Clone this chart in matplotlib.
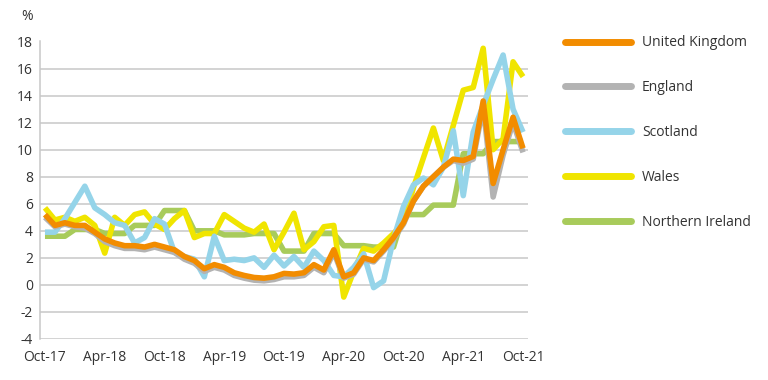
import matplotlib
matplotlib.use("Agg")
import matplotlib.pyplot as plt
import numpy as np
from matplotlib.lines import Line2D

plt.rcParams['font.family'] = ['Open Sans', 'DejaVu Sans']

months = ["Oct-17", "Nov-17", "Dec-17", "Jan-18", "Feb-18", "Mar-18", "Apr-18", "May-18", "Jun-18",
          "Jul-18", "Aug-18", "Sep-18", "Oct-18", "Nov-18", "Dec-18", "Jan-19", "Feb-19", "Mar-19",
          "Apr-19", "May-19", "Jun-19", "Jul-19", "Aug-19", "Sep-19", "Oct-19", "Nov-19", "Dec-19",
          "Jan-20", "Feb-20", "Mar-20", "Apr-20", "May-20", "Jun-20", "Jul-20", "Aug-20", "Sep-20",
          "Oct-20", "Nov-20", "Dec-20", "Jan-21", "Feb-21", "Mar-21", "Apr-21", "May-21", "Jun-21",
          "Jul-21", "Aug-21", "Sep-21", "Oct-21"]

united_kingdom = [5.2, 4.4, 4.6, 4.4, 4.4, 3.9, 3.4, 3.1, 2.9, 2.9,
                  2.8, 3.0, 2.8, 2.6, 2.1, 1.8, 1.2, 1.5, 1.3, 0.9,
                  0.7, 0.55, 0.5, 0.6, 0.85, 0.8, 0.9, 1.5, 1.1, 2.6,
                  0.6, 0.9, 2.0, 1.8, 2.6, 3.5, 4.6, 6.2, 7.3, 8.0,
                  8.7, 9.3, 9.2, 9.5, 13.6, 7.5, 10.0, 12.4, 10.1]

england = [5.0, 4.3, 4.5, 4.3, 4.2, 3.8, 3.2, 2.9, 2.7, 2.7,
           2.6, 2.8, 2.6, 2.4, 1.9, 1.6, 1.0, 1.3, 1.1, 0.7,
           0.5, 0.35, 0.3, 0.4, 0.6, 0.6, 0.7, 1.3, 0.9, 2.4,
           0.5, 0.8, 1.9, 1.7, 2.5, 3.4, 4.5, 6.2, 7.3, 8.0,
           8.7, 9.2, 9.0, 9.3, 13.2, 6.5, 9.6, 12.0, 9.8]

scotland = [3.9, 3.9, 4.9, 6.1, 7.3, 5.7, 5.2, 4.6, 4.4, 3.1,
            3.5, 4.9, 4.5, 2.4, 2.1, 1.9, 0.6, 3.6, 1.8, 1.9,
            1.8, 2.0, 1.3, 2.2, 1.4, 2.1, 1.3, 2.5, 1.8, 0.7,
            0.6, 1.3, 2.3, -0.2, 0.3, 3.4, 5.8, 7.4, 7.9, 7.4,
            8.7, 11.4, 6.6, 11.3, 13.3, 15.2, 17.0, 13.0, 11.3]

wales = [5.7, 4.8, 5.0, 4.7, 5.0, 4.4, 2.35, 5.0, 4.4, 5.2,
         5.4, 4.5, 4.1, 4.9, 5.5, 3.5, 3.8, 3.8, 5.2, 4.7,
         4.2, 3.9, 4.5, 2.6, 3.9, 5.3, 2.6, 3.2, 4.3, 4.4,
         -0.9, 1.0, 2.7, 2.5, 3.1, 3.8, 4.6, 7.2, 9.4, 11.6,
         9.2, 11.8, 14.4, 14.6, 17.5, 10.0, 10.8, 16.5, 15.4]

northern_ireland = [3.6, 3.6, 3.6, 4.1, 4.1, 4.1, 3.8, 3.8, 3.8, 4.4,
                    4.4, 4.4, 5.5, 5.5, 5.5, 4.0, 4.0, 4.0, 3.7, 3.7,
                    3.7, 3.8, 3.8, 3.8, 2.5, 2.5, 2.5, 3.8, 3.8, 3.8,
                    2.9, 2.9, 2.9, 2.8, 2.8, 2.8, 5.2, 5.2, 5.2, 5.9,
                    5.9, 5.9, 9.7, 9.7, 9.7, 10.6, 10.6, 10.6, 10.6]

series_names = ["United Kingdom", "England", "Scotland", "Wales", "Northern Ireland"]
colors = ["#f28c00", "#b3b3b3", "#95d4e9", "#f0e500", "#a8cb5b"]
yticks = [-4, -2, 0, 2, 4, 6, 8, 10, 12, 14, 16, 18]
xtick_labels = ["Oct-17", "Apr-18", "Oct-18", "Apr-19", "Oct-19", "Apr-20", "Oct-20", "Apr-21", "Oct-21"]

data = [united_kingdom, england, scotland, wales, northern_ireland]

fig = plt.figure(figsize=(7.68, 3.80), dpi=100)
ax = fig.add_axes([40/768, 1 - 339/380, (528-40)/768, (339-41.5)/380])

x = np.arange(len(months))
zorders = [10, 9, 7, 6, 5]
for vals, name, c, z in zip(data, series_names, colors, zorders):
    ax.plot(x, vals, color=c, lw=4.0, solid_joinstyle='round', solid_capstyle='butt',
            label=name, zorder=z)

ax.set_xlim(-0.5, len(months) - 0.5)
ax.set_ylim(-4, 18)
ax.set_yticks(yticks)
ax.set_yticklabels([str(v) for v in yticks])
tick_pos = [months.index(m) for m in xtick_labels]
ax.set_xticks(tick_pos)
ax.set_xticklabels(xtick_labels)
ax.tick_params(axis='both', length=0, labelsize=10, colors='#333333')
ax.tick_params(axis='x', pad=8)
ax.tick_params(axis='y', pad=5)
ax.grid(axis='y', color='#c8c8c8', lw=1.1)
ax.set_axisbelow(True)
for s in ['top', 'right', 'bottom']:
    ax.spines[s].set_visible(False)
ax.spines['left'].set_color('#c8c8c8')
ax.spines['left'].set_linewidth(1.1)

fig.text(27/768, 1 - 16/380, "%", ha='center', va='center', fontsize=10, color='#333333')

handles = [Line2D([0], [0], color=c, lw=5, solid_capstyle='round') for c in colors]
leg = fig.legend(handles, series_names, loc='upper left', bbox_to_anchor=(565/768, 1 - 35.5/380),
                 frameon=False, handlelength=4.75, handletextpad=0.8, labelspacing=2.15,
                 fontsize=10, labelcolor='#333333', borderaxespad=0, borderpad=0)

fig.savefig("out.png", dpi=100)
